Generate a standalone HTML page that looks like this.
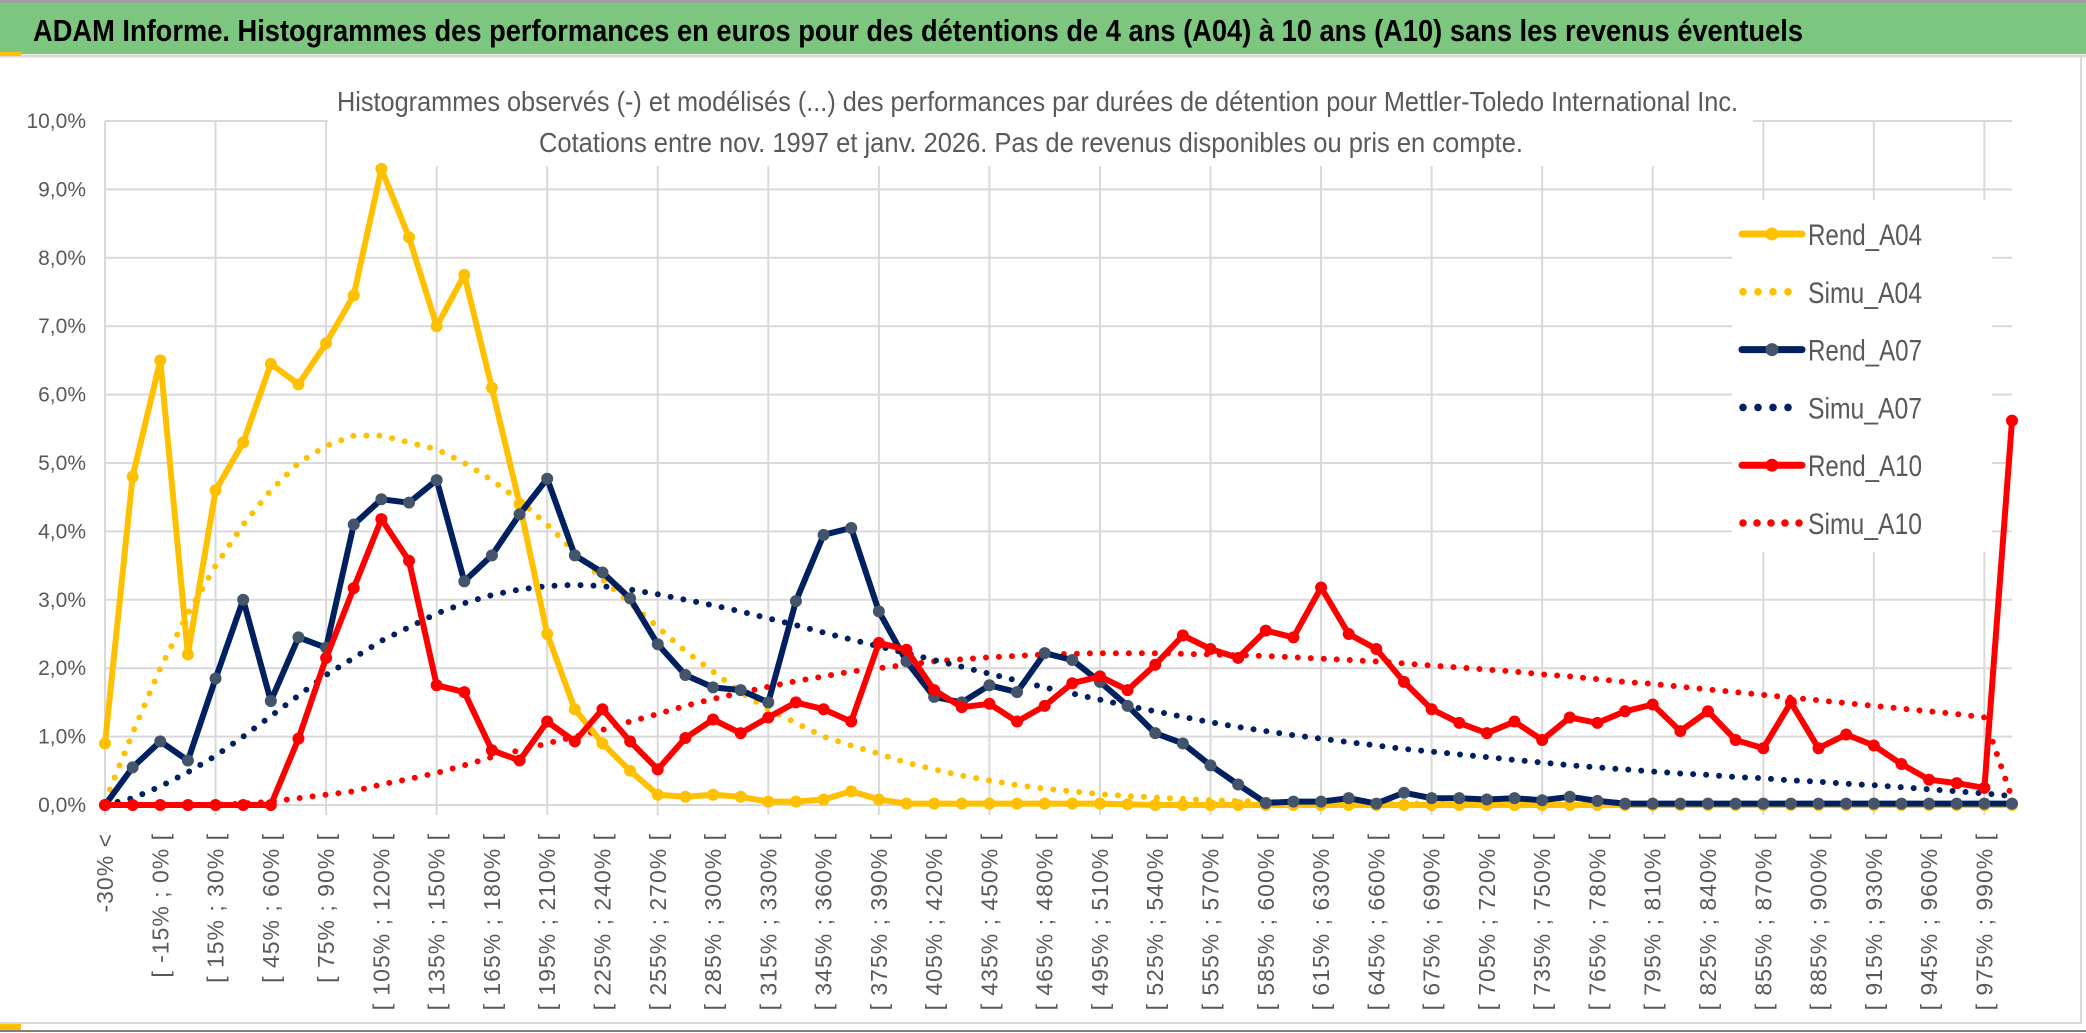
<!DOCTYPE html>
<html><head><meta charset="utf-8">
<style>
html,body{margin:0;padding:0;background:#fff;}
svg{display:block;}
text{font-family:"Liberation Sans Narrow","Liberation Sans",sans-serif;}
</style></head>
<body>
<svg id="chart" width="2086" height="1033" viewBox="0 0 2086 1033" xmlns="http://www.w3.org/2000/svg">
  <rect x="0" y="0" width="2086" height="1033" fill="#ffffff"/>
  <rect x="0" y="2" width="2086" height="52" fill="#7dc67f"/>
  <line x1="0" y1="1.5" x2="2086" y2="1.5" stroke="#a0a0a0" stroke-width="3"/>
  <line x1="0" y1="56" x2="2086" y2="56" stroke="#d9d9d9" stroke-width="3"/>
  <rect x="0" y="52" width="21" height="4" fill="#ffc000"/>
  <text x="33" y="41" font-size="31" font-weight="bold" fill="#000" textLength="1770" lengthAdjust="spacingAndGlyphs">ADAM Informe. Histogrammes des performances en euros pour des détentions de 4 ans (A04) à 10 ans (A10) sans les revenus éventuels</text>
  <line x1="2081" y1="56" x2="2081" y2="1023" stroke="#d9d9d9" stroke-width="2"/>
  <line x1="0" y1="1023" x2="2082" y2="1023" stroke="#d9d9d9" stroke-width="2"/>
  <line x1="0" y1="1031" x2="2086" y2="1031" stroke="#808080" stroke-width="2"/>
  <rect x="0" y="1024" width="21" height="6" fill="#ffc000"/>
  <g id="grid"></g>
  <rect x="328" y="84" width="1425" height="82" fill="#ffffff"/>
  <text x="337" y="111" font-size="28" fill="#595959" textLength="1401" lengthAdjust="spacingAndGlyphs">Histogrammes observés (-) et modélisés (...) des performances par durées de détention pour Mettler-Toledo International Inc.</text>
  <text x="539" y="152" font-size="28" fill="#595959" textLength="984" lengthAdjust="spacingAndGlyphs">Cotations entre nov. 1997 et janv. 2026. Pas de revenus disponibles ou pris en compte.</text>
  <g id="yaxis"></g>
  <g id="xaxis"></g>
  <g id="series"></g>
  <g id="legend"></g>
</svg>
<script>
const categories = (function(){
  const c = ["-30% <"];
  for (let i = 1; i <= 68; i++) { const a = -30 + 15*(i-1); c.push("[ " + a + "% ; " + (a+15) + "% ["); }
  c.push("990% <");
  return c;
})();
const yTicks = [0,1,2,3,4,5,6,7,8,9,10];
const yTickLabels = ["0,0%","1,0%","2,0%","3,0%","4,0%","5,0%","6,0%","7,0%","8,0%","9,0%","10,0%"];

const rendA04 = [0.9,4.8,6.5,2.2,4.6,5.3,6.45,6.15,6.75,7.45,9.3,8.3,7.0,7.75,6.1,4.4,2.5,1.4,0.9,0.5,0.15,0.12,0.15,0.12,0.05,0.05,0.08,0.2,0.08,0.02,0.02,0.02,0.02,0.02,0.02,0.02,0.02,0.01,0,0,0,0,0,0,0,0,0,0,0,0,0,0,0,0,0,0,0,0,0,0,0,0,0,0,0,0,0,0,0,0];
const simuA04 = [0.05,1.05,2.0,2.8,3.5,4.1,4.6,5.0,5.25,5.4,5.4,5.3,5.2,5.0,4.75,4.45,4.1,3.7,3.3,2.95,2.6,2.25,1.95,1.65,1.4,1.2,1.0,0.87,0.75,0.62,0.52,0.43,0.36,0.29,0.24,0.2,0.16,0.13,0.11,0.09,0.07,0.06,0.05,0.04,0.03,0.03,0.02,0.02,0.02,0.01,0.01,0.01,0.01,0.01,0.01,0,0,0,0,0,0,0,0,0,0,0,0,0,0,0];
const rendA07 = [0,0.55,0.93,0.65,1.85,3.0,1.52,2.45,2.3,4.1,4.47,4.42,4.75,3.27,3.65,4.25,4.77,3.65,3.4,3.02,2.35,1.9,1.72,1.68,1.5,2.98,3.95,4.05,2.83,2.1,1.58,1.5,1.75,1.65,2.22,2.12,1.8,1.45,1.05,0.9,0.58,0.3,0.03,0.05,0.05,0.1,0.02,0.18,0.1,0.1,0.08,0.1,0.07,0.12,0.06,0.02,0.02,0.02,0.02,0.02,0.02,0.02,0.02,0.02,0.02,0.02,0.02,0.02,0.02,0.02];
const simuA07 = [0,0.1,0.27,0.48,0.72,1.0,1.3,1.6,1.9,2.15,2.4,2.6,2.8,2.95,3.07,3.15,3.2,3.22,3.2,3.15,3.08,3.0,2.92,2.83,2.73,2.63,2.52,2.42,2.32,2.22,2.12,2.02,1.92,1.82,1.72,1.63,1.54,1.45,1.37,1.29,1.21,1.14,1.08,1.02,0.97,0.92,0.87,0.82,0.78,0.74,0.7,0.66,0.62,0.58,0.55,0.52,0.49,0.46,0.44,0.41,0.39,0.36,0.34,0.31,0.29,0.26,0.23,0.2,0.17,0.13];
const rendA10 = [0,0,0,0,0,0,0,0.97,2.15,3.17,4.18,3.57,1.75,1.65,0.8,0.65,1.22,0.93,1.4,0.93,0.52,0.98,1.25,1.05,1.28,1.5,1.4,1.22,2.37,2.27,1.68,1.43,1.48,1.22,1.45,1.78,1.88,1.68,2.05,2.48,2.28,2.15,2.55,2.45,3.18,2.5,2.28,1.8,1.4,1.2,1.05,1.22,0.95,1.28,1.2,1.37,1.47,1.08,1.37,0.95,0.83,1.5,0.83,1.03,0.87,0.6,0.37,0.32,0.25,5.62];
const simuA10 = [0,0,0,0,0,0.02,0.05,0.1,0.15,0.2,0.3,0.38,0.47,0.58,0.7,0.8,0.9,1.0,1.1,1.22,1.33,1.45,1.55,1.64,1.73,1.81,1.88,1.95,2.0,2.05,2.1,2.13,2.16,2.18,2.2,2.21,2.22,2.22,2.22,2.21,2.2,2.19,2.18,2.16,2.14,2.12,2.1,2.07,2.04,2.01,1.98,1.95,1.91,1.88,1.84,1.8,1.77,1.73,1.69,1.65,1.61,1.57,1.53,1.49,1.45,1.41,1.37,1.33,1.28,0.1];

const NS = "http://www.w3.org/2000/svg";
const X0 = 105, X1 = 2012, Y0 = 805, YPER = 68.4;
function xScale(i){ return X0 + i*(X1-X0)/(categories.length-1); }
function yScale(v){ return Y0 - v*YPER; }
function mk(tag, attrs, parent){ const e = document.createElementNS(NS, tag); for (const k in attrs) e.setAttribute(k, attrs[k]); parent.appendChild(e); return e; }

const grid = document.getElementById('grid');
yTicks.forEach(function(t){
  const l = mk('line', {x1:X0, x2:X1, y1:yScale(t), y2:yScale(t), stroke:'#d9d9d9', 'stroke-width':2}, grid);
  
  
});
for (let i = 0; i < categories.length; i += 4) {
  const l = mk('line', {x1:xScale(i), x2:xScale(i), y1:yScale(10), y2:Y0+10, stroke:'#d9d9d9', 'stroke-width':2}, grid);
  
  
}

const yaxis = document.getElementById('yaxis');
yTicks.forEach(function(t, k){
  const tx = mk('text', {x:86, y:yScale(t)+7, 'font-size':21, fill:'#595959', 'text-anchor':'end'}, yaxis);
  tx.textContent = yTickLabels[k];
  
  
});

const xaxis = document.getElementById('xaxis');
for (let i = 0; i < categories.length - 1; i += 2) {
  const x = xScale(i) + 8, y = 833;
  const tx = mk('text', {x:x, y:y, 'font-size':23, fill:'#595959', 'text-anchor':'end', 'letter-spacing':'1', transform:'rotate(-90 '+x+' '+y+')', 'font-family':'"Liberation Sans",sans-serif'}, xaxis);
  tx.textContent = categories[i];
  
  
}

const seriesG = document.getElementById('series');
function pts(vals){ return vals.map(function(v,i){ return xScale(i).toFixed(1)+','+yScale(v).toFixed(1); }).join(' '); }
function dotted(vals, color, name){
  const p = mk('polyline', {points:pts(vals), fill:'none', stroke:color, 'stroke-width':6, 'stroke-linecap':'round', 'stroke-dasharray':'0 13'}, seriesG);
  
  
}
function solid(vals, color, mcolor, name){
  const g = mk('g', {}, seriesG);
  
  
  const p = mk('polyline', {points:pts(vals), fill:'none', stroke:color, 'stroke-width':6, 'stroke-linejoin':'round'}, g);
  
  
  vals.forEach(function(v,i){
    const c = mk('circle', {cx:xScale(i), cy:yScale(v), r:6, fill:mcolor}, g);
    
    
  });
}
dotted(simuA10, '#ff0000', 'simu-a10-series');
dotted(simuA07, '#002060', 'simu-a07-series');
dotted(simuA04, '#ffc000', 'simu-a04-series');
solid(rendA04, '#ffc000', '#ffc000', 'rend-a04-series');
solid(rendA07, '#002060', '#44546a', 'rend-a07-series');
solid(rendA10, '#ff0000', '#ff0000', 'rend-a10-series');

const legend = document.getElementById('legend');
const bg = mk('rect', {x:1732, y:200, width:260, height:352, fill:'#ffffff'}, legend);


const legendItems = [
  ['Rend_A04','#ffc000','#ffc000',false,4],
  ['Simu_A04','#ffc000','#ffc000',true,4],
  ['Rend_A07','#002060','#44546a',false,4],
  ['Simu_A07','#002060','#002060',true,4],
  ['Rend_A10','#ff0000','#ff0000',false,5],
  ['Simu_A10','#ff0000','#ff0000',true,5]
];
legendItems.forEach(function(it, k){
  const y = 234 + k*57.8;
  const g = mk('g', {}, legend);
  
  
  if (it[3]) {
    for (let d = 0; d < it[4]; d++) {
      const c = mk('circle', {cx:1743 + d*(it[4]===5?14:15), cy:y, r:3.8, fill:it[1]}, g);
      
      
    }
  } else {
    const l = mk('line', {x1:1742, x2:1802, y1:y, y2:y, stroke:it[1], 'stroke-width':7, 'stroke-linecap':'round'}, g);
    
    
    const c = mk('circle', {cx:1772, cy:y, r:6.5, fill:it[2]}, g);
    
    
  }
  const t = mk('text', {x:1808, y:y+11, 'font-size':30, fill:'#595959', textLength:114, lengthAdjust:'spacingAndGlyphs'}, g);
  t.textContent = it[0];
  
  
});
</script>
</body></html>
